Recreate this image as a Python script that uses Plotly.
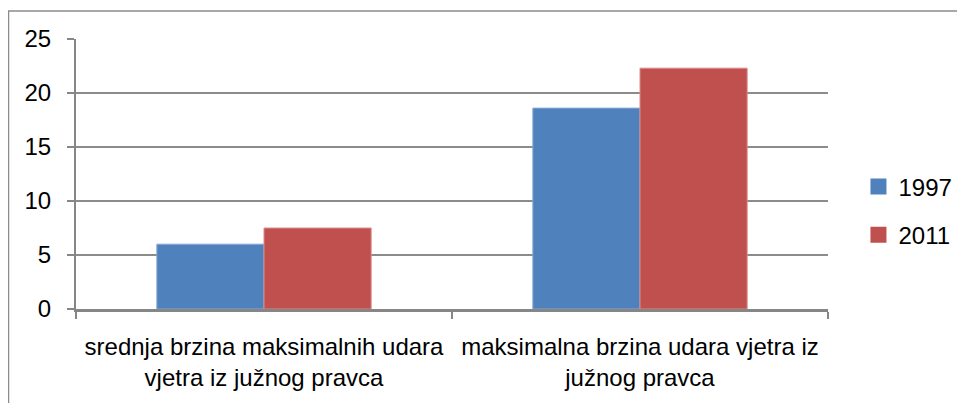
import plotly.graph_objects as go

categories = [
    "srednja brzina maksimalnih udara<br>vjetra iz južnog pravca",
    "maksimalna brzina udara vjetra iz<br>južnog pravca",
]
series_names = ["1997", "2011"]
values_1997 = [6.0, 18.6]
values_2011 = [7.5, 22.3]
colors = ["#4F81BD", "#C0504D"]
edge_colors = ["#86A9D6", "#D98E8C"]
y_ticks = [0, 5, 10, 15, 20, 25]

FONT = "Liberation Sans, Arial, sans-serif"

fig = go.Figure()
for name, vals, c, e in zip(series_names, [values_1997, values_2011], colors, edge_colors):
    fig.add_trace(go.Bar(
        x=categories, y=vals, name=name, showlegend=False,
        marker=dict(color=c, line=dict(color=e, width=1)),
    ))
# legend entries
for name, c in zip(series_names, colors):
    fig.add_trace(go.Scatter(
        x=[None], y=[None], mode="markers", name=name, legendgroup=name,
        marker=dict(symbol="square", size=17, color=c),
    ))

fig.update_layout(
    width=957, height=395,
    margin=dict(l=68, r=137, t=31, b=94, autoexpand=False),
    paper_bgcolor="white", plot_bgcolor="white",
    font=dict(family=FONT, size=24, color="black"),
    barmode="group", bargap=0.43, bargroupgap=0,
    legend=dict(
        x=1.0405, xanchor="left", y=0.363, yanchor="middle",
        font=dict(family=FONT, size=24, color="black"),
        tracegroupgap=14, itemsizing="trace",
    ),
    shapes=[dict(
        type="rect", xref="paper", yref="paper",
        x0=(0.5 - 68) / 752, x1=2, y0=-1, y1=(301 - 3) / 270,
        line=dict(color="#8c8c8c", width=1.5), fillcolor="rgba(0,0,0,0)", layer="below",
    )],
)
fig.update_xaxes(
    type="category", showline=True, linecolor="#868686", linewidth=2.5,
    ticks="outside", tickson="boundaries", ticklen=7, tickcolor="#868686", tickwidth=1.5,
    showgrid=False, tickfont=dict(family=FONT, size=24, color="black"),
    ticklabelstandoff=14, automargin=False,
)
fig.update_yaxes(
    range=[0, 25], tickvals=y_ticks, showline=True, linecolor="#868686", linewidth=2,
    ticks="outside", ticklen=7, tickcolor="#868686", tickwidth=1.5,
    showgrid=True, gridcolor="#8c8c8c", gridwidth=1.5, zeroline=False,
    tickfont=dict(family=FONT, size=24, color="black"), ticklabelstandoff=11,
    automargin=False,
)

fig.write_html("out.html")
